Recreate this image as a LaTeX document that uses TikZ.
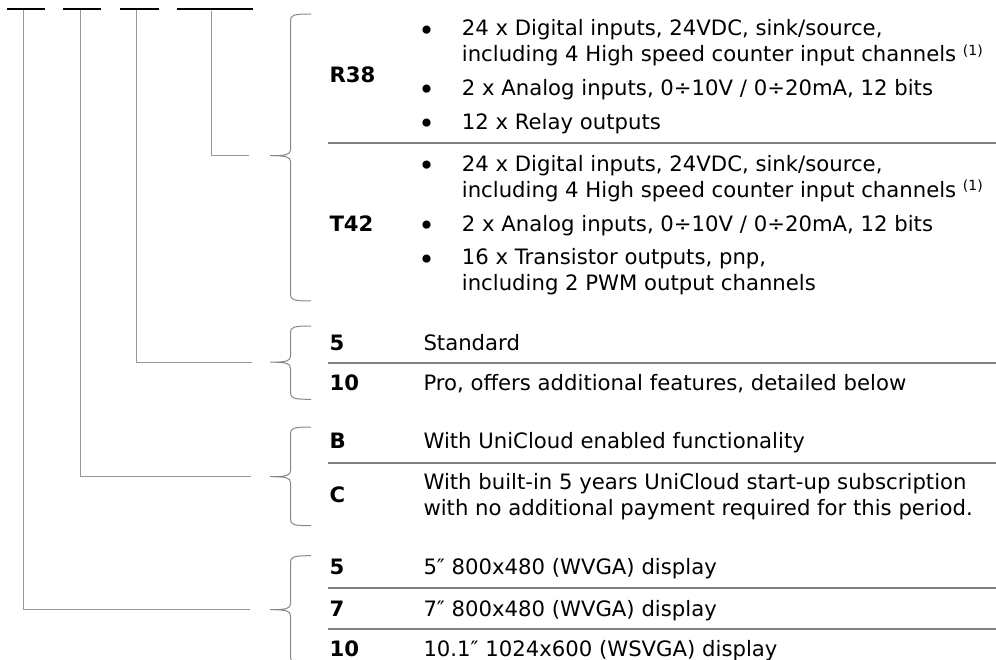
\documentclass[tikz,border=0pt]{standalone}
\usepackage{fontspec}
\setmainfont{DejaVu Sans}
\definecolor{sepgray}{RGB}{128,128,128}
\definecolor{congray}{RGB}{150,150,150}
\definecolor{brgray}{RGB}{135,135,135}
\newcommand{\supone}{\raisebox{6.5pt}{\fontsize{14}{14}\selectfont(1)}}
\begin{document}
\begin{tikzpicture}[x=1pt,y=-1pt,
  txt/.style={anchor=base west,inner sep=0pt,font=\fontsize{21.2}{26}\selectfont},
  lbl/.style={anchor=base west,inner sep=0pt,font=\fontsize{21.2}{26}\selectfont\bfseries},
  bul/.style={anchor=base,inner sep=0pt,font=\fontsize{28}{28}\selectfont},
  topbar/.style={line width=2.3pt,black},
  conn/.style={line width=1.1pt,congray},
  sep/.style={line width=2pt,sepgray},
  bracestyle/.style={line width=1pt,brgray}]
\useasboundingbox (0,0) rectangle (996,660);
\clip (0,0) rectangle (996,660);

% top code bars
\draw[topbar] (7,8.7) -- (45,8.7);
\draw[topbar] (63,8.7) -- (101,8.7);
\draw[topbar] (120,8.7) -- (159,8.7);
\draw[topbar] (177,8.7) -- (253,8.7);

% connector ends
\coordinate (s1) at (23.7,10);
\coordinate (s2) at (80.3,10);
\coordinate (s3) at (136.7,10);
\coordinate (s4) at (211.3,11);
\coordinate (e1) at (250,609.7);
\coordinate (e2) at (250.7,476.7);
\coordinate (e3) at (251.7,362.2);
\coordinate (e4) at (249,155.7);
\draw[conn] (s1) |- (e1);
\draw[conn] (s2) |- (e2);
\draw[conn] (s3) |- (e3);
\draw[conn] (s4) |- (e4);

% braces: top, tip, bottom
\newcommand{\mybrace}[3]{%
  \draw[bracestyle] (311,#1) .. controls (293,#1) and (290.5,#1+1) .. (290.5,#1+7)
    -- (290.5,#2-6) .. controls (290.5,#2-1) and (286,#2) .. (270,#2)
    .. controls (286,#2) and (290.5,#2+1) .. (290.5,#2+6)
    -- (290.5,#3-7) .. controls (290.5,#3-1) and (293,#3) .. (311,#3);}
\mybrace{14}{155.7}{301}
\mybrace{326}{362.2}{399.3}
\mybrace{427}{476.7}{525.7}
\mybrace{555.7}{609.7}{663.7}

% separators
\draw[sep] (328,142.7) -- (996,142.7);
\draw[sep] (328,362.7) -- (996,362.7);
\draw[sep] (328,462.7) -- (996,462.7);
\draw[sep] (328,588.3) -- (996,588.3);
\draw[sep] (328,629) -- (996,629);

% R38 block
\node[lbl] (r38) at (329.3,82.7) {R38};
\node[bul] (rb1) at (426.7,40.2) {•};
\node[txt] (r1a) at (461.7,35.7) {24 x Digital inputs, 24VDC, sink/source,};
\node[txt] (r1b) at (461.7,61.7) {including 4 High speed counter input channels \supone};
\node[bul] (rb2) at (426.7,99.9) {•};
\node[txt] (r2) at (461.7,95.4) {2 x Analog inputs, 0÷10V / 0÷20mA, 12 bits};
\node[bul] (rb3) at (426.7,133.6) {•};
\node[txt] (r3) at (461.7,129.1) {12 x Relay outputs};

% T42 block
\node[lbl] (t42) at (329.3,231.2) {T42};
\node[bul] (tb1) at (426.7,176) {•};
\node[txt] (t1a) at (461.7,171.5) {24 x Digital inputs, 24VDC, sink/source,};
\node[txt] (t1b) at (461.7,197.5) {including 4 High speed counter input channels \supone};
\node[bul] (tb2) at (426.7,235.7) {•};
\node[txt] (t2) at (461.7,231.2) {2 x Analog inputs, 0÷10V / 0÷20mA, 12 bits};
\node[bul] (tb3) at (426.7,269.4) {•};
\node[txt] (t3a) at (461.7,264.9) {16 x Transistor outputs, pnp,};
\node[txt] (t3b) at (461.7,290.9) {including 2 PWM output channels};

% version
\node[lbl] (v5) at (329.3,350) {5};
\node[txt] (v5d) at (423.3,350) {Standard};
\node[lbl] (v10) at (329.3,390.7) {10};
\node[txt] (v10d) at (423.3,390.7) {Pro, offers additional features, detailed below};

% cloud
\node[lbl] (cb) at (329.3,448.3) {B};
\node[txt] (cbd) at (423.3,448.3) {With UniCloud enabled functionality};
\node[lbl] (cc) at (329.3,502.7) {C};
\node[txt] (ccd1) at (423.3,489.7) {With built-in 5 years UniCloud start-up subscription};
\node[txt] (ccd2) at (423.3,515.5) {with no additional payment required for this period.};

% display
\node[lbl] (d5) at (329.3,574) {5};
\node[txt] (d5d) at (423.3,574) {5″ 800x480 (WVGA) display};
\node[lbl] (d7) at (329.3,616) {7};
\node[txt] (d7d) at (423.3,616) {7″ 800x480 (WVGA) display};
\node[lbl] (d10) at (329.3,656.7) {10};
\node[txt] (d10d) at (423.3,656.7) {10.1″ 1024x600 (WSVGA) display};
\end{tikzpicture}
\end{document}
